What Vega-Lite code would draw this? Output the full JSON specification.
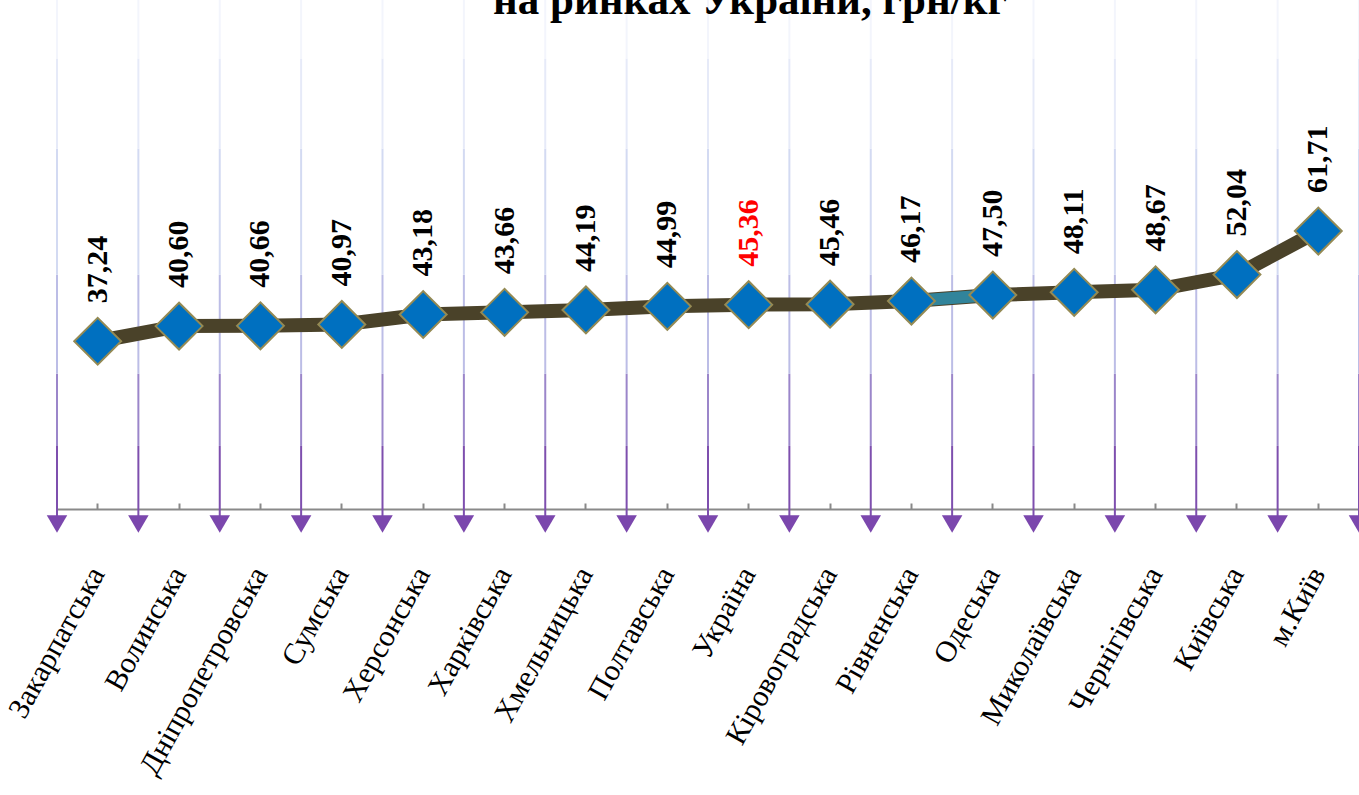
{
  "$schema": "https://vega.github.io/schema/vega-lite/v6.json",
  "width": 1302,
  "height": 509,
  "autosize": "none",
  "padding": {"left": 57, "top": 0, "right": 0, "bottom": 286},
  "background": "#ffffff",
  "config": {
    "view": {"stroke": null},
    "locale": {"number": {"decimal": ",", "thousands": " ", "grouping": [3], "currency": ["", ""]}}
  },
  "title": {
    "text": "на ринках України, грн/кг",
    "font": "Liberation Serif",
    "fontSize": 43,
    "fontWeight": "bold",
    "color": "#000000",
    "anchor": "middle",
    "baseline": "alphabetic",
    "offset": -58,
    "dx": 42
  },
  "data": {
    "values": [
      {"region": "Закарпатська", "price": 37.24},
      {"region": "Волинська", "price": 40.60},
      {"region": "Дніпропетровська", "price": 40.66},
      {"region": "Сумська", "price": 40.97},
      {"region": "Херсонська", "price": 43.18},
      {"region": "Харківська", "price": 43.66},
      {"region": "Хмельницька", "price": 44.19},
      {"region": "Полтавська", "price": 44.99},
      {"region": "Україна", "price": 45.36},
      {"region": "Кіровоградська", "price": 45.46},
      {"region": "Рівненська", "price": 46.17},
      {"region": "Одеська", "price": 47.50},
      {"region": "Миколаївська", "price": 48.11},
      {"region": "Чернігівська", "price": 48.67},
      {"region": "Київська", "price": 52.04},
      {"region": "м.Київ", "price": 61.71}
    ]
  },
  "layer": [
    {"mark": {"type": "rule", "strokeWidth": 2, "stroke": "#7e4fae"},
     "encoding": {
       "x": {"field": "region", "type": "nominal", "sort": null, "bandPosition": 0,
         "scale": {"type": "band", "paddingInner": 0, "paddingOuter": 0},
         "axis": {
            "orient": "bottom",
            "title": null,
            "grid": false,
            "bandPosition": 0.5,
            "labelAngle": -61,
            "labelAlign": "right",
            "labelBaseline": "middle",
            "labelFont": "Liberation Serif",
            "labelFontSize": 30,
            "labelColor": "#000000",
            "labelPadding": 66,
            "labelOverlap": false,
            "labelLimit": 0,
            "domainColor": "#898989",
            "domainWidth": 2,
            "tickColor": "#898989",
            "tickWidth": 2,
            "tickSize": -6
          }},
       "y": {"datum": -2, "type": "quantitative", "scale": {"domain": [0, 113], "nice": false, "zero": false}, "axis": null}, "y2": {"datum": 14}}},
    {"mark": {"type": "rule", "strokeWidth": 2, "stroke": "#9b86ca"},
     "encoding": {"x": {"field": "region", "type": "nominal", "sort": null, "bandPosition": 0},
       "y": {"datum": 14, "type": "quantitative", "axis": null}, "y2": {"datum": 30}}},
    {"mark": {"type": "rule", "strokeWidth": 2, "stroke": "#bcbde6"},
     "encoding": {"x": {"field": "region", "type": "nominal", "sort": null, "bandPosition": 0},
       "y": {"datum": 30, "type": "quantitative", "axis": null}, "y2": {"datum": 52}}},
    {"mark": {"type": "rule", "strokeWidth": 2, "stroke": "#d3daf2"},
     "encoding": {"x": {"field": "region", "type": "nominal", "sort": null, "bandPosition": 0},
       "y": {"datum": 52, "type": "quantitative", "axis": null}, "y2": {"datum": 80}}},
    {"mark": {"type": "rule", "strokeWidth": 2, "stroke": "#e6eaf8"},
     "encoding": {"x": {"field": "region", "type": "nominal", "sort": null, "bandPosition": 0},
       "y": {"datum": 80, "type": "quantitative", "axis": null}, "y2": {"datum": 100}}},
    {"mark": {"type": "rule", "strokeWidth": 2, "stroke": "#f3f5fc"},
     "encoding": {"x": {"field": "region", "type": "nominal", "sort": null, "bandPosition": 0},
       "y": {"datum": 100, "type": "quantitative", "axis": null}, "y2": {"datum": 113}}},
    {"mark": {"type": "point", "shape": "triangle-down", "filled": true, "fill": "#7b47ad", "opacity": 1, "size": 420, "yOffset": 15},
     "encoding": {"x": {"field": "region", "type": "nominal", "sort": null, "bandPosition": 0},
       "y": {"datum": 0, "type": "quantitative", "axis": null}}},
    {"transform": [{"filter": "datum.region === 'м.Київ'"}],
     "mark": {"type": "rule", "strokeWidth": 2, "stroke": "#7e4fae"},
     "encoding": {"x": {"field": "region", "type": "nominal", "sort": null, "bandPosition": 1},
       "y": {"datum": -2, "type": "quantitative", "axis": null}, "y2": {"datum": 14}}},
    {"transform": [{"filter": "datum.region === 'м.Київ'"}],
     "mark": {"type": "rule", "strokeWidth": 2, "stroke": "#9b86ca"},
     "encoding": {"x": {"field": "region", "type": "nominal", "sort": null, "bandPosition": 1},
       "y": {"datum": 14, "type": "quantitative", "axis": null}, "y2": {"datum": 30}}},
    {"transform": [{"filter": "datum.region === 'м.Київ'"}],
     "mark": {"type": "rule", "strokeWidth": 2, "stroke": "#bcbde6"},
     "encoding": {"x": {"field": "region", "type": "nominal", "sort": null, "bandPosition": 1},
       "y": {"datum": 30, "type": "quantitative", "axis": null}, "y2": {"datum": 52}}},
    {"transform": [{"filter": "datum.region === 'м.Київ'"}],
     "mark": {"type": "rule", "strokeWidth": 2, "stroke": "#d3daf2"},
     "encoding": {"x": {"field": "region", "type": "nominal", "sort": null, "bandPosition": 1},
       "y": {"datum": 52, "type": "quantitative", "axis": null}, "y2": {"datum": 80}}},
    {"transform": [{"filter": "datum.region === 'м.Київ'"}],
     "mark": {"type": "rule", "strokeWidth": 2, "stroke": "#e6eaf8"},
     "encoding": {"x": {"field": "region", "type": "nominal", "sort": null, "bandPosition": 1},
       "y": {"datum": 80, "type": "quantitative", "axis": null}, "y2": {"datum": 100}}},
    {"transform": [{"filter": "datum.region === 'м.Київ'"}],
     "mark": {"type": "rule", "strokeWidth": 2, "stroke": "#f3f5fc"},
     "encoding": {"x": {"field": "region", "type": "nominal", "sort": null, "bandPosition": 1},
       "y": {"datum": 100, "type": "quantitative", "axis": null}, "y2": {"datum": 113}}},
    {"transform": [{"filter": "datum.region === 'м.Київ'"}],
     "mark": {"type": "point", "shape": "triangle-down", "filled": true, "fill": "#7b47ad", "opacity": 1, "size": 420, "yOffset": 15},
     "encoding": {"x": {"field": "region", "type": "nominal", "sort": null, "bandPosition": 1},
       "y": {"datum": 0, "type": "quantitative", "axis": null}}},
    {
      "mark": {"type": "line", "stroke": "#4a4229", "strokeWidth": 14},
      "encoding": {
        "x": {"field": "region", "type": "nominal", "sort": null},
        "y": {"field": "price", "type": "quantitative", "axis": null},
        "order": {"field": "price"}
      }
    },
    {
      "transform": [{"filter": "datum.region === 'Рівненська' || datum.region === 'Одеська'"}],
      "mark": {"type": "line", "stroke": "#31849b", "strokeWidth": 12},
      "encoding": {
        "x": {"field": "region", "type": "nominal", "sort": null},
        "y": {"field": "price", "type": "quantitative", "axis": null},
        "order": {"field": "price"}
      }
    },
    {
      "mark": {"type": "point", "shape": "diamond", "filled": true, "fill": "#0070c0", "stroke": "#948a54", "strokeWidth": 2, "opacity": 1, "size": 2200},
      "encoding": {
        "x": {"field": "region", "type": "nominal", "sort": null},
        "y": {"field": "price", "type": "quantitative", "axis": null}
      }
    },
    {
      "mark": {"type": "text", "angle": 270, "align": "left", "baseline": "middle", "dx": 38, "font": "Liberation Serif", "fontSize": 30, "fontWeight": "bold"},
      "encoding": {
        "x": {"field": "region", "type": "nominal", "sort": null},
        "y": {"field": "price", "type": "quantitative", "axis": null},
        "text": {"field": "price", "type": "quantitative", "format": ".2f"},
        "color": {"condition": {"test": "datum.region === 'Україна'", "value": "#ff0000"}, "value": "#000000"}
      }
    }
  ]
}
